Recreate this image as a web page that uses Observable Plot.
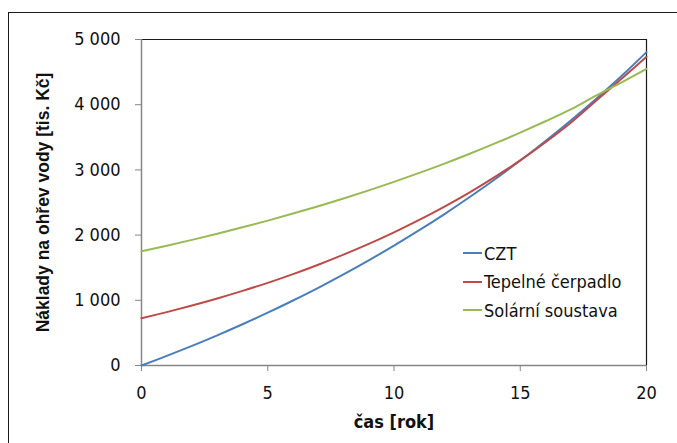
<!DOCTYPE html>
<html><head><meta charset="utf-8">
<script src="https://cdn.jsdelivr.net/npm/d3@7"></script>
<script src="https://cdn.jsdelivr.net/npm/@observablehq/plot@0.6"></script>
<style>
body{margin:0;background:#fff;width:677px;height:443px;overflow:hidden;position:relative;font-family:"Liberation Sans Narrow","DejaVu Sans Condensed",sans-serif;}
#frame{position:absolute;left:8px;top:12px;width:720px;height:480px;border:1.5px solid #1a1a1a;box-sizing:border-box;}
#chart{position:absolute;left:0;top:0;}
#legend{position:absolute;left:463px;top:239px;font-size:18px;color:#111;}
#legend .row{height:28.5px;display:flex;align-items:center;}
#legend .sw{width:19px;height:2px;margin-right:2px;}
</style></head>
<body>
<div id="frame"></div>
<div id="chart"></div>
<div id="legend"></div>
<script>
const years = [0,1,2,3,4,5,6,7,8,9,10,11,12,13,14,15,16,17,18,19,20];
const czt = [0,147,301,463,633,810,997,1192,1398,1613,1839,2075,2323,2584,2857,3143,3444,3759,4089,4436,4806];
const tepelne = [725,819,920,1028,1144,1268,1402,1546,1700,1865,2043,2233,2438,2657,2893,3145,3423,3723,4060,4395,4735];
const solarni = [1753,1838,1927,2021,2119,2222,2330,2443,2562,2686,2817,2954,3097,3248,3406,3572,3746,3928,4140,4340,4550];
const seriesNames = ["CZT","Tepelné čerpadlo","Solární soustava"];
const colors = ["#4A7EBB","#BE4B48","#98B954"];
const xTicks = [0,5,10,15,20];
const yTicks = [0,1000,2000,3000,4000,5000];
const xLabel = "čas [rok]";
const yLabel = "Náklady na ohřev vody [tis. Kč]";

const allSeries = [czt, tepelne, solarni];
const data = [];
allSeries.forEach((vals, i) => vals.forEach((v, j) => data.push({t: years[j], v, s: seriesNames[i]})));

const fmt = d => d === 0 ? "0" : d3.format(",")(d).replace(/,/g, " ");
const tickFont = "Liberation Sans Narrow, DejaVu Sans Condensed, sans-serif";

const chart = Plot.plot({
  width: 677, height: 443,
  marginLeft: 141, marginRight: 31, marginTop: 39, marginBottom: 78,
  style: {fontFamily: tickFont, background: "transparent", overflow: "visible"},
  x: {domain: [0, 20]},
  y: {domain: [0, 5000]},
  color: {domain: seriesNames, range: colors},
  marks: [
    Plot.ruleY([5000], {stroke: "#1a1a1a", strokeWidth: 1.2}),
    Plot.ruleX([20], {stroke: "#1a1a1a", strokeWidth: 1.2}),
    Plot.ruleX([0], {stroke: "#868686", strokeWidth: 1.5}),
    Plot.ruleY([0], {stroke: "#868686", strokeWidth: 1.5}),
    Plot.axisY({ticks: yTicks, tickFormat: fmt, tickSize: 6, tickPadding: 15, stroke: "#868686", strokeOpacity: 1, fontSize: 18, color: "#111", label: null}),
    Plot.axisX({ticks: xTicks, tickFormat: d => String(d), tickSize: 6, tickPadding: 15, stroke: "#868686", strokeOpacity: 1, fontSize: 18, color: "#111", label: null}),
    Plot.text([xLabel], {frameAnchor: "bottom", dy: 62, fontSize: 18, fontWeight: "bold", fill: "#111"}),
    Plot.text([yLabel], {frameAnchor: "left", rotate: -90, dx: -98, textAnchor: "middle", fontSize: 17.5, fontWeight: "bold", fill: "#111", fontFamily: "Liberation Sans, Arial, sans-serif"}),
    Plot.line(data, {x: "t", y: "v", z: "s", stroke: "s", strokeWidth: 2, curve: "catmull-rom"})
  ]
});
document.getElementById("chart").appendChild(chart);

const legend = document.getElementById("legend");
seriesNames.forEach((n, i) => {
  const row = document.createElement("div");
  row.className = "row";
  const sw = document.createElement("span");
  sw.className = "sw";
  sw.style.background = colors[i];
  const lab = document.createElement("span");
  lab.textContent = n;
  row.appendChild(sw); row.appendChild(lab);
  legend.appendChild(row);
});
</script>
</body></html>
